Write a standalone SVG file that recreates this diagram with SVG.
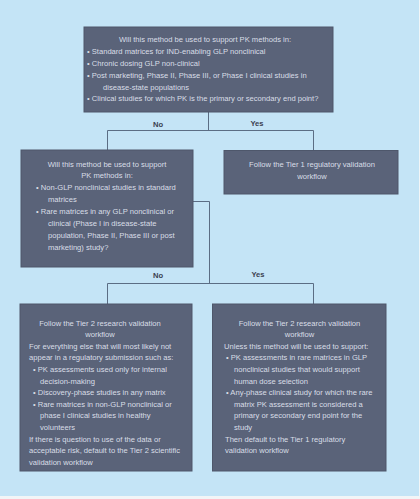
<svg xmlns="http://www.w3.org/2000/svg" width="420" height="499" viewBox="0 0 420 499">
<style>
.box{fill:#5a6379;stroke:#4e576b;stroke-width:1}
.t{font-family:"Liberation Sans",Arial,sans-serif;font-size:7.6px;fill:#d9dee7}
.c{text-anchor:middle}
.lbl{font-family:"Liberation Sans",Arial,sans-serif;font-size:7.6px;font-weight:bold;fill:#3b4150;text-anchor:middle}
.ln{fill:none;stroke:#5b6d84;stroke-width:1}
</style>
<rect x="0" y="0" width="420" height="499" fill="#f2f5f7"/>
<rect x="0" y="0" width="419" height="496" fill="#c4e4f6"/>
<g id="connectors">
<path class="ln" d="M208.5,112 V130.5 M107.5,150 V130.5 H313.5 V151"/>
<path class="ln" d="M193,201.5 H209.5 V283.5 M107.5,304 V283.5 H313.5 V304"/>
<text class="lbl" x="158" y="126.5">No</text>
<text class="lbl" x="257" y="125.5">Yes</text>
<text class="lbl" x="158" y="277.5">No</text>
<text class="lbl" x="258" y="276.5">Yes</text>
</g>
<g id="q1">
<rect class="box" x="84" y="27" width="249" height="85"/>
<text class="t c" x="205" y="42">Will this method be used to support PK methods in:</text>
<text class="t" x="87" y="54">• Standard matrices for IND-enabling GLP nonclinical</text>
<text class="t" x="87" y="65.5">• Chronic dosing GLP non-clinical</text>
<text class="t" x="87" y="77.5">• Post marketing, Phase II, Phase III, or Phase I clinical studies in</text>
<text class="t" x="103" y="89.5">disease-state populations</text>
<text class="t" x="87" y="101">• Clinical studies for which PK is the primary or secondary end point?</text>
</g>
<g id="q2">
<rect class="box" x="21" y="150" width="172" height="117"/>
<text class="t c" x="107" y="166.5">Will this method be used to support</text>
<text class="t c" x="107" y="178.4">PK methods in:</text>
<text class="t" x="36" y="190.2">• Non-GLP nonclinical studies in standard</text>
<text class="t" x="48" y="202.1">matrices</text>
<text class="t" x="36" y="213.9">• Rare matrices in any GLP nonclinical or</text>
<text class="t" x="48" y="225.8">clinical (Phase I in disease-state</text>
<text class="t" x="48" y="237.7">population, Phase II, Phase III or post</text>
<text class="t" x="48" y="249.5">marketing) study?</text>
</g>
<g id="tier1">
<rect class="box" x="224" y="150.5" width="174" height="43.5"/>
<text class="t c" x="312" y="167">Follow the Tier 1 regulatory validation</text>
<text class="t c" x="312" y="179">workflow</text>
</g>
<g id="tier2-research">
<rect class="box" x="20" y="304" width="172" height="167"/>
<text class="t c" x="100" y="325.5">Follow the Tier 2 research validation</text>
<text class="t c" x="100" y="337.1">workflow</text>
<text class="t" x="29" y="348.7">For everything else that will most likely not</text>
<text class="t" x="29" y="360.3">appear in a regulatory submission such as:</text>
<text class="t" x="33" y="371.9">• PK assessments used only for internal</text>
<text class="t" x="40" y="383.5">decision-making</text>
<text class="t" x="33" y="395.1">• Discovery-phase studies in any matrix</text>
<text class="t" x="33" y="406.7">• Rare matrices in non-GLP nonclinical or</text>
<text class="t" x="40" y="418.3">phase I clinical studies in healthy</text>
<text class="t" x="40" y="429.9">volunteers</text>
<text class="t" x="29" y="441.5">If there is question to use of the data or</text>
<text class="t" x="29" y="453.1">acceptable risk, default to the Tier 2 scientific</text>
<text class="t" x="29" y="464.7">validation workflow</text>
</g>
<g id="tier2-unless">
<rect class="box" x="212.5" y="304" width="173.5" height="167"/>
<text class="t c" x="299.5" y="325.5">Follow the Tier 2 research validation</text>
<text class="t c" x="299.5" y="337.1">workflow</text>
<text class="t" x="224" y="348.7">Unless this method will be used to support:</text>
<text class="t" x="226" y="360.3">• PK assessments in rare matrices in GLP</text>
<text class="t" x="234" y="371.9">nonclinical studies that would support</text>
<text class="t" x="234" y="383.5">human dose selection</text>
<text class="t" x="226" y="395.1">• Any-phase clinical study for which the rare</text>
<text class="t" x="234" y="406.7">matrix PK assessment is considered a</text>
<text class="t" x="234" y="418.3">primary or secondary end point for the</text>
<text class="t" x="234" y="429.9">study</text>
<text class="t" x="225" y="441.5">Then default to the Tier 1 regulatory</text>
<text class="t" x="225" y="453.1">validation workflow</text>
</g>
</svg>
